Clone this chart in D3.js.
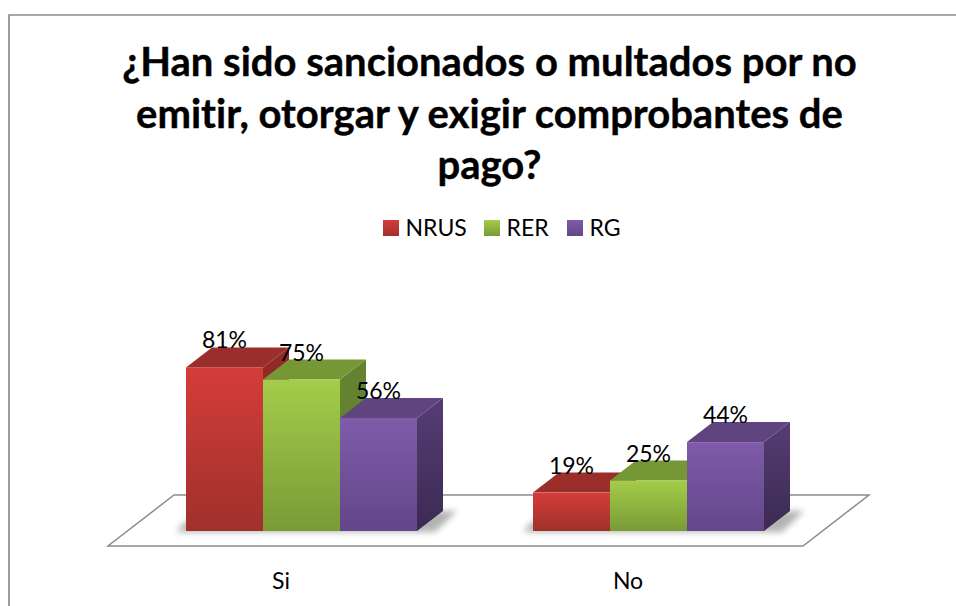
<!DOCTYPE html>
<html><head><meta charset="utf-8">
<script src="https://cdnjs.cloudflare.com/ajax/libs/d3/7.8.5/d3.min.js"></script>
<style>html,body{margin:0;padding:0;background:#fff}svg{display:block}text{font-family:Lato,"Open Sans",sans-serif;fill:#000;font-variant-ligatures:none}</style>
</head><body><script>
const categories = ["Si","No"];
const seriesNames = ["NRUS","RER","RG"];
const NRUS = [81,19];
const RER = [75,25];
const RG = [56,44];
const titleLines = ["¿Han sido sancionados o multados por no","emitir, otorgar y exigir comprobantes de","pago?"];
const seriesValues = [NRUS,RER,RG];
const palette = [
 {top:"#d43d39",bottom:"#a0302c",cap:"#9a2e2b",sideTop:"#8f2a27",sideBottom:"#8f2a27"},
 {top:"#a3cd4a",bottom:"#7a9a36",cap:"#769735",sideTop:"#658230",sideBottom:"#658230"},
 {top:"#7f5ba9",bottom:"#624789",cap:"#5f447f",sideTop:"#553d74",sideBottom:"#3c2a52"}
];
const W=956,H=606;
const svg=d3.select("body").append("svg").attr("width",W).attr("height",H);
const defs=svg.append("defs");
palette.forEach((p,i)=>{
  const g=defs.append("linearGradient").attr("id","f"+i).attr("x1",0).attr("y1",0).attr("x2",0).attr("y2",1);
  g.append("stop").attr("offset",0).attr("stop-color",p.top);
  g.append("stop").attr("offset",1).attr("stop-color",p.bottom);
  const s=defs.append("linearGradient").attr("id","s"+i).attr("x1",0).attr("y1",0).attr("x2",0).attr("y2",1);
  s.append("stop").attr("offset",0).attr("stop-color",p.sideTop);
  s.append("stop").attr("offset",1).attr("stop-color",p.sideBottom);
});
defs.append("filter").attr("id","blur").attr("x","-20%").attr("y","-50%").attr("width","140%").attr("height","200%")
  .append("feGaussianBlur").attr("stdDeviation",3);

// outer frame
svg.append("path").attr("d",`M9 606V15H956`).attr("fill","none").attr("stroke","#8c8c8c").attr("stroke-width",1.7);

// title
svg.append("g").selectAll("text").data(titleLines).join("text")
  .attr("x",489.5).attr("y",(d,i)=>76+i*51.5).attr("text-anchor","middle")
  .attr("font-size",40).attr("font-weight",700).attr("stroke","#000").attr("stroke-width",.4).text(d=>d);

// legend
const legendX=[383,484,567];
const lg=svg.append("g").selectAll("g").data(seriesNames).join("g");
lg.append("rect").attr("x",(d,i)=>legendX[i]).attr("y",220).attr("width",16).attr("height",16).attr("fill",(d,i)=>`url(#f${i})`);
lg.append("text").attr("x",(d,i)=>legendX[i]+22.5).attr("y",235.5).attr("font-size",23).text(d=>d);

// scales
const baseY=531, depthX=26, depthY=20;
const y=d3.scaleLinear().domain([0,100]).range([baseY,baseY-202]);
const x0=d3.scaleBand().domain(categories).range([107.5,801.5]);
const x1=d3.scaleBand().domain(seriesNames).range([78.5,309.5]);

// floor
const floorL=108,floorR=803,floorFront=546,floorBack=495,floorDx=66;
svg.append("path").attr("d",`M${floorL} ${floorFront}H${floorR}L${floorR+floorDx} ${floorBack}H${floorL+floorDx}Z`)
  .attr("fill","#fff").attr("stroke","#8c8c8c").attr("stroke-width",1.5);

// category labels
svg.append("g").selectAll("text").data(categories).join("text")
  .attr("x",d=>x0(d)+x0.bandwidth()/2).attr("y",589)
  .attr("text-anchor","middle").attr("font-size",23).text(d=>d);

// bars
categories.forEach((c,ci)=>{
  const g=svg.append("g");
  const bx=x0(c);
  const left=bx+x1(seriesNames[0]), right=bx+x1(seriesNames[2])+x1.bandwidth();
  g.append("path").attr("d",`M${left-10} ${baseY+1}L${right+depthX-8} ${baseY+1}L${right+depthX+14} ${baseY-20}H${right+depthX-5}L${right} ${baseY-10}H${left}Z`)
    .attr("fill","#555").attr("opacity",.45).attr("filter","url(#blur)");
  seriesNames.forEach((s,si)=>{
    const v=seriesValues[si][ci];
    const a=bx+x1(s), w=x1.bandwidth(), t=y(v), z=a+w;
    g.append("path").attr("d",`M${z} ${t}L${z+depthX} ${t-depthY}V${baseY-depthY}L${z} ${baseY}Z`).attr("fill",`url(#s${si})`);
    g.append("path").attr("d",`M${a} ${t}L${a+depthX} ${t-depthY}H${z+depthX}L${z} ${t}Z`).attr("fill",palette[si].cap);
    g.append("rect").attr("x",a).attr("y",t).attr("width",w).attr("height",baseY-t).attr("fill",`url(#f${si})`);
  });
  seriesNames.forEach((s,si)=>{
    const v=seriesValues[si][ci];
    g.append("text").attr("x",bx+x1(s)+x1.bandwidth()/2).attr("y",y(v)-19).attr("text-anchor","middle").attr("font-size",23).text(v+"%");
  });
});
</script></body></html>
